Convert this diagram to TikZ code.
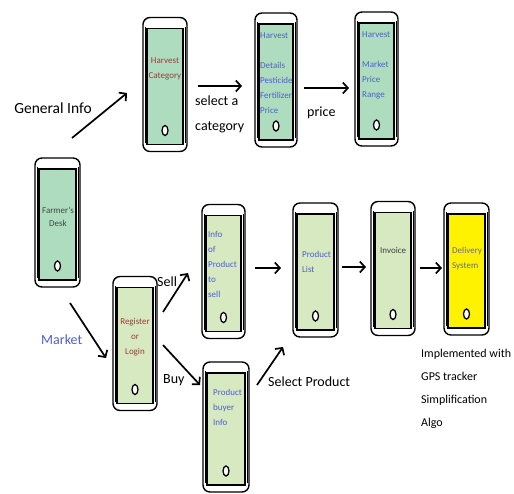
\documentclass[tikz,border=0pt]{standalone}
\usepackage{fontspec}
\setmainfont{Carlito}
\usetikzlibrary{arrows.meta}
\definecolor{scrA}{HTML}{AEDCBF}
\definecolor{scrB}{HTML}{D6E9C1}
\definecolor{scrY}{HTML}{FFF200}
\definecolor{txtRed}{HTML}{A03A3A}
\definecolor{txtBlue}{HTML}{4F5FCC}
\definecolor{txtGray}{HTML}{3E4A40}
\definecolor{txtInv}{HTML}{404040}
\definecolor{txtDel}{HTML}{6A6A90}
\tikzset{
  phone/.style={draw, line width=1.4pt, rounded corners=7pt, fill=white,
    minimum width=44pt, minimum height=134pt, inner sep=0pt,
    path picture={
      \draw[line width=0.6pt] ([shift={(2.2pt,9pt)}]path picture bounding box.south west) -- ([shift={(2.2pt,-9pt)}]path picture bounding box.north west);
      \draw[line width=0.6pt] ([shift={(-2.2pt,9pt)}]path picture bounding box.south east) -- ([shift={(-2.2pt,-9pt)}]path picture bounding box.north east);
      \draw[line width=1.3pt, fill=#1, rounded corners=0pt] ([shift={(4pt,7pt)}]path picture bounding box.south west) rectangle ([shift={(-4pt,-11pt)}]path picture bounding box.north east);
      \draw[line width=1.3pt, fill=white] ([yshift=21pt]path picture bounding box.south) ellipse (3pt and 5pt);
    }},
  scr/.style={inner sep=0pt, font=\fontsize{9}{15}\selectfont},
  big/.style={inner sep=0pt, font=\fontsize{14}{25}\selectfont},
  arr/.style={line width=1.7pt, -{Straight Barb[length=5pt,width=11pt,line width=1.7pt]}}
}
\begin{document}
\begin{tikzpicture}[x=1pt,y=-1pt]
\useasboundingbox (0,0) rectangle (514,493);
% phones
\node[phone=scrA] (hc) at (165,84.5) {};
\node[phone=scrA, minimum width=42pt] (hd) at (276,80) {};
\node[phone=scrA, minimum width=43pt] (mp) at (376.5,79) {};
\node[phone=scrA, minimum width=45pt, minimum height=129pt] (fd) at (57.5,222.5) {};
\node[phone=scrB] (rl) at (135,343.5) {};
\node[phone=scrB, minimum width=43pt] (ip) at (223.5,271.5) {};
\node[phone=scrB, minimum width=45pt] (pl) at (315.5,270) {};
\node[phone=scrB] (inv) at (393,268.5) {};
\node[phone=scrY, minimum width=45pt, minimum height=132pt] (ds) at (466.5,269) {};
\node[phone=scrB, minimum width=46pt, minimum height=130pt] (pb) at (226,427) {};
% screen texts
\node[scr, text=txtRed, align=center, anchor=north] (thc) at (165,58) {Harvest\\Category};
\node[scr, text=txtBlue, align=left, anchor=north west] (thd) at (260,33) {Harvest\\[15pt]Details\\Pesticide\\Fertilizer\\Price};
\node[scr, text=txtBlue, align=left, anchor=north west] (tmp) at (362,32) {Harvest\\[15pt]Market\\Price\\Range};
\node[scr, text=txtGray, align=center, anchor=north, font=\fontsize{9}{13}\selectfont] (tfd) at (58,207) {Farmer's\\Desk};
\node[scr, text=txtRed, align=center, anchor=north] (trl) at (135,318) {Register\\or\\Login};
\node[scr, text=txtBlue, align=left, anchor=north west] (tip) at (208,231) {Info\\of\\Product\\to\\sell};
\node[scr, text=txtBlue, align=left, anchor=north west] (tpl) at (302,251) {Product\\List};
\node[scr, text=txtInv, align=left, anchor=north west] (tinv) at (380,247) {Invoice};
\node[scr, text=txtDel, align=left, anchor=north west] (tds) at (452,247) {Delivery\\System};
\node[scr, text=txtBlue, align=left, anchor=north west] (tpb) at (213,389) {Product\\buyer\\Info};
% big labels
\node[big, font=\fontsize{15.5}{18}\selectfont] (lgi) at (53,108) {General Info};
\node[big, align=left, anchor=north west] (lsc) at (195,96) {select a\\category};
\node[big, anchor=west] (lpr) at (307,113) {price};
\node[big, anchor=west, text=txtBlue] (lmk) at (41,340) {Market};
\node[big, anchor=west] (lsell) at (157,282) {Sell};
\node[big, anchor=west] (lbuy) at (163,380) {Buy};
\node[big, anchor=west] (lsp) at (268,382) {Select Product};
\node[big, align=left, anchor=north west, font=\fontsize{12}{23}\selectfont] (limp) at (421,349) {Implemented with\\GPS tracker\\Simplification\\Algo};
% connector end points
\coordinate (gi1) at (72,138); \coordinate (gi2) at (127,93);
\coordinate (sc1) at (198,86); \coordinate (sc2) at (242,86);
\coordinate (pr1) at (304,88); \coordinate (pr2) at (349,88);
\coordinate (mk1) at (70,303); \coordinate (mk2) at (106,358);
\coordinate (se1) at (163,312); \coordinate (se2) at (188,273);
\coordinate (bu1) at (163,345); \coordinate (bu2) at (200,385);
\coordinate (sp1) at (257,385); \coordinate (sp2) at (283,347);
\coordinate (a11) at (255,268); \coordinate (a12) at (281,268);
\coordinate (a21) at (342,267); \coordinate (a22) at (366,267);
\coordinate (a31) at (420,268); \coordinate (a32) at (442,268);
% connectors
\draw[arr] (gi1) -- (gi2);
\draw[arr] (sc1) -- (sc2);
\draw[arr] (pr1) -- (pr2);
\draw[arr] (mk1) -- (mk2);
\draw[arr] (se1) -- (se2);
\draw[arr] (bu1) -- (bu2);
\draw[arr] (sp1) -- (sp2);
\draw[arr] (a11) -- (a12);
\draw[arr] (a21) -- (a22);
\draw[arr] (a31) -- (a32);
\end{tikzpicture}
\end{document}
